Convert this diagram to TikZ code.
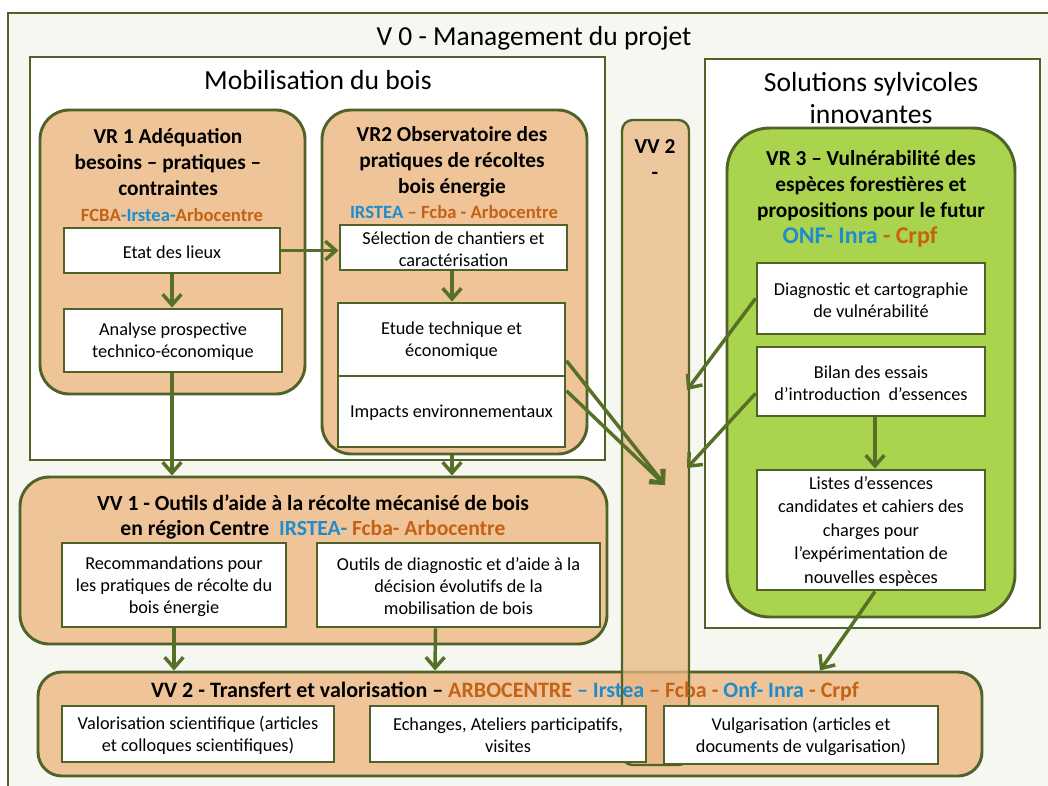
\documentclass[tikz,border=0pt]{standalone}
\usepackage{fontspec}
\setmainfont{Carlito}
\usetikzlibrary{arrows.meta,fit,calc}
\definecolor{bgc}{RGB}{245,247,240}
\definecolor{dkgreen}{RGB}{79,98,40}
\definecolor{arrg}{RGB}{86,112,40}
\definecolor{tanc}{RGB}{239,196,152}
\definecolor{barc}{RGB}{234,182,130}
\definecolor{limec}{RGB}{170,212,78}
\definecolor{orgt}{RGB}{196,98,22}
\definecolor{bluet}{RGB}{30,140,205}
\newcommand{\og}[1]{\textcolor{orgt}{#1}}
\newcommand{\bl}[1]{\textcolor{bluet}{#1}}
\begin{document}
\begin{tikzpicture}[x=0.75pt,y=-0.75pt,
  wbox/.style={draw=dkgreen,line width=2.2pt,fill=white,inner sep=0pt},
  tx/.style={align=center,inner sep=0pt,yshift=-1pt,font=\fontsize{13.7}{16.5}\selectfont},
  rbox/.style={draw=dkgreen,line width=2.2pt,fill=tanc,inner sep=0pt,rounded corners=22pt},
  frame/.style={draw=dkgreen,line width=2pt,fill=white,inner sep=0pt},
  arr/.style={draw=arrg,line width=2.6pt,-{Straight Barb[length=8pt,width=14pt]}},
  ttl/.style={font=\fontsize{16}{19.5}\selectfont\bfseries,align=center,inner sep=0pt},
  ptn/.style={font=\fontsize{14}{16}\selectfont\bfseries,inner sep=0pt},
  big/.style={font=\fontsize{20.7}{24}\selectfont,align=center,inner sep=0pt}]
\useasboundingbox (0,0) rectangle (1048,785);
\begin{scope}
\clip (0,0) rectangle (1048,785);
\fill[white] (0,0) rectangle (1048,785);
\node[draw=dkgreen,line width=2pt,fill=bgc,inner sep=0pt,fit={(8,13) (1070,800)}] (v0) {};
\end{scope}
\node[font=\fontsize{20.6}{24}\selectfont,inner sep=0pt] (v0t) at (534,38) {V 0 - Management du projet};

% Mobilisation du bois
\node[frame,fit={(30,57) (605,460)}] (mob) {};
\node[big] (mobt) at (318,80) {Mobilisation du bois};
% Solutions sylvicoles
\node[frame,fit={(705,59) (1040,628)}] (sol) {};
\node[big] (solt) at (871,98) {Solutions sylvicoles\\innovantes};

% VR1
\node[rbox,fit={(40,110) (305,394)}] (vr1) {};
\node[ttl] (vr1t) at (168,162) {VR 1 Adéquation\\besoins – pratiques –\\contraintes};
\node[ptn] (vr1p) at (172,215) {\og{FCBA}\bl{-Irstea-}\og{Arbocentre}};
\node[wbox,fit={(64,228) (280,273)}] (etat) {};
\node[tx] at (etat) {Etat des lieux};
\node[wbox,fit={(64,309) (282,372)}] (analyse) {};
\node[tx] at (analyse) {Analyse prospective\\technico-économique};

% VR2
\node[rbox,fit={(322,110) (587,454)}] (vr2) {};
\node[ttl] (vr2t) at (452,162) {VR2 Observatoire des\\pratiques de récoltes\\bois énergie};
\node[ptn] (vr2p) at (454,212) {\bl{IRSTEA} \og{– Fcba - Arbocentre}};
\node[wbox,fit={(340,225) (567,270)}] (selec) {};
\node[tx] at (selec) {Sélection de chantiers et\\caractérisation};
\node[wbox,fit={(338,303) (565,376)}] (etude) {};
\node[tx] at (etude) {Etude technique et\\économique};
\node[wbox,fit={(338,376) (565,447)}] (impacts) {};
\node[tx] at (impacts) {Impacts environnementaux};

% VR3
\node[rbox,fill=limec,rounded corners=32pt,fit={(727,128) (1015,617)}] (vr3) {};
\node[ttl] (vr3t) at (871,186) {VR 3 – Vulnérabilité des\\espèces forestières et\\propositions pour le futur};
\node[ptn,font=\fontsize{18}{20}\selectfont\bfseries] (vr3p) at (860,237) {\bl{ONF- Inra} \og{- Crpf}};
\node[wbox,fit={(757,263) (985,334)}] (diag) {};
\node[tx] at (diag) {Diagnostic et cartographie\\de vulnérabilité};
\node[wbox,fit={(757,347) (985,416)}] (bilan) {};
\node[tx] at (bilan) {Bilan des essais\\d’introduction\ \ d’essences};
\node[wbox,fit={(757,470) (985,590)}] (listes) {};
\node[tx,font=\fontsize{13.7}{17.6}\selectfont] at (listes) {Listes d’essences\\candidates et cahiers des\\charges pour\\l’expérimentation de\\nouvelles espèces};

% VV1
\node[rbox,fit={(20,477) (607,644)}] (vv1) {};
\node[ttl,font=\fontsize{16.2}{18.75}\selectfont\bfseries] (vv1t) at (313,517) {VV 1 - Outils d’aide à la récolte mécanisé de bois\\en région Centre\ \ \bl{IRSTEA-} \og{Fcba- Arbocentre}};
\node[wbox,fit={(62,543) (286,627)}] (recom) {};
\node[tx] at (recom) {Recommandations pour\\les pratiques de récolte du\\bois énergie};
\node[wbox,fit={(317,543) (600,627)}] (outils) {};
\node[tx] at (outils) {Outils de diagnostic et d’aide à la\\décision évolutifs de la\\mobilisation de bois};

% VV2 bottom
\node[rbox,rounded corners=18pt,fit={(38,672) (982,776)}] (vv2) {};
% VV2 vertical bar
\node[draw=dkgreen,line width=1.8pt,fill=barc,fill opacity=0.75,draw opacity=1,inner sep=0pt,rounded corners=8pt,fit={(622,120) (689,765)}] (bar) {};
\node[ttl] (bart) at (655,160) {VV 2\\-};
\node[ttl,font=\fontsize{16.5}{19}\selectfont\bfseries] (vv2t) at (505,691) {VV 2 - Transfert et valorisation – \og{ARBOCENTRE} \bl{– Irstea} \og{– Fcba -} \bl{Onf- Inra} \og{- Crpf}};

\node[wbox,fit={(62,706) (334,762)}] (valo) {};
\node[tx] at (valo) {Valorisation scientifique (articles\\et colloques scientifiques)};
\node[wbox,fit={(370,706) (646,762)}] (echg) {};
\node[tx] at (echg) {Echanges, Ateliers participatifs,\\visites};
\node[wbox,fit={(664,706) (938,764)}] (vulg) {};
\node[tx] at (vulg) {Vulgarisation (articles et\\documents de vulgarisation)};

% connectors
\coordinate (hub) at (665,485);
\coordinate (bar1) at (687,390);
\coordinate (bar2) at (687,468);
\draw[arr] (etat.south) -- (etat.south |- analyse.north);
\draw[arr] (etat.east) -- (etat.east -| selec.west);
\draw[arr] (selec.south -| 452,0) -- (etude.north -| 452,0);
\draw[arr] (analyse.south -| 172,0) -- (vv1.north -| 172,0);
\draw[arr] (vr2.south -| 452,0) -- (vv1.north -| 452,0);
\draw[arr] ($(etude.north east)!0.78!(etude.south east)$) -- (hub);
\draw[arr] ($(impacts.north east)!0.22!(impacts.south east)$) -- (hub);
\draw[arr] (diag.west) -- (bar1);
\draw[arr] ($(bilan.west)+(0,12)$) -- (bar2);
\draw[arr] (bilan.south -| 875,0) -- (listes.north -| 875,0);
\draw[arr] ($(listes.south)+(4,0)$) -- (vv2.north -| 820,0);
\draw[arr] (recom.south) -- (vv2.north -| recom.south);
\draw[arr] ($(outils.south)+(-23,0)$) -- (vv2.north -| 435,0);
\end{tikzpicture}
\end{document}
